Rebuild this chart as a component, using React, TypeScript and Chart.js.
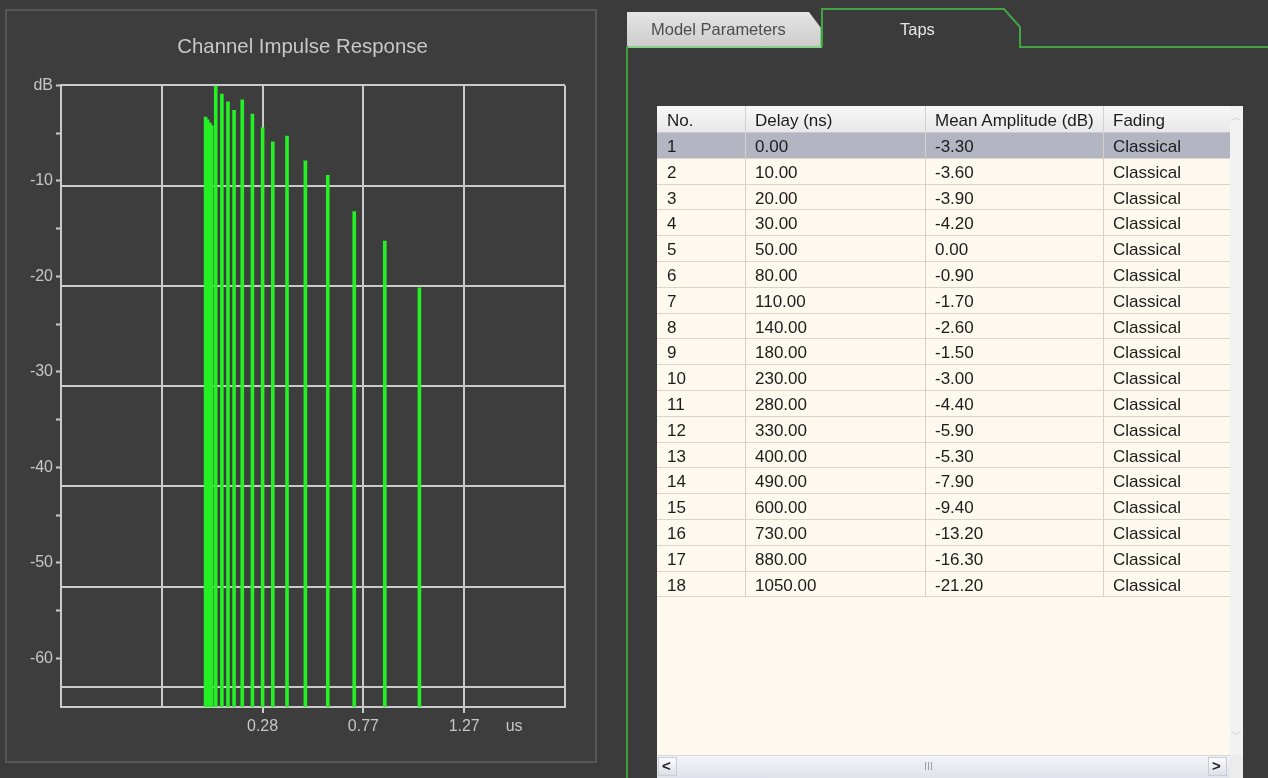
import React, { useEffect, useRef } from 'react';
import { Chart, registerables } from 'chart.js';

Chart.register(...registerables);

// ---------- data ----------
const tapNumbers = [1, 2, 3, 4, 5, 6, 7, 8, 9, 10, 11, 12, 13, 14, 15, 16, 17, 18];
const delaysNs = [0, 10, 20, 30, 50, 80, 110, 140, 180, 230, 280, 330, 400, 490, 600, 730, 880, 1050];
const amplitudesDb = [-3.3, -3.6, -3.9, -4.2, 0.0, -0.9, -1.7, -2.6, -1.5, -3.0, -4.4, -5.9, -5.3, -7.9, -9.4, -13.2, -16.3, -21.2];
const fadingTypes = [
  'Classical', 'Classical', 'Classical', 'Classical', 'Classical', 'Classical',
  'Classical', 'Classical', 'Classical', 'Classical', 'Classical', 'Classical',
  'Classical', 'Classical', 'Classical', 'Classical', 'Classical', 'Classical',
];
const tableHeaders = ['No.', 'Delay (ns)', 'Mean Amplitude (dB)', 'Fading'];

// x axis (microseconds): grid positions and labels
const xTickValues = [-0.71, -0.215, 0.28, 0.775, 1.27, 1.515, 1.765];
const xTickLabels = ['', '', '0.28', '0.77', '1.27', 'us', ''];
const xUnitValue = 1.515;
const xMin = -0.71;
const xMax = 1.765;

// y axis (dB)
const yTickValues = [0, -5, -10, -15, -20, -25, -30, -35, -40, -45, -50, -55, -60];
const yTickLabels = ['dB', '', '-10', '', '-20', '', '-30', '', '-40', '', '-50', '', '-60'];
const yGridValues = [0, -10.5, -21, -31.5, -42, -52.5, -63];
const yMin = -65.1;
const yMax = 0;

const GRID = '#cacaca';
const TEXT = '#c6c6c6';
const FONT = "'Liberation Sans', Arial, sans-serif";

function ImpulseChart() {
  const ref = useRef<HTMLCanvasElement | null>(null);
  useEffect(() => {
    if (!ref.current) return;
    const chart = new Chart(ref.current, {
      type: 'bar',
      data: {
        datasets: [
          {
            data: delaysNs.map((d, i) => ({ x: d / 1000, y: amplitudesDb[i] })),
            backgroundColor: '#25f025',
            borderWidth: 0,
            barThickness: 3,
            base: yMin,
            xAxisID: 'x',
            yAxisID: 'y',
          } as any,
        ],
      },
      options: {
        animation: false,
        responsive: false,
        maintainAspectRatio: false,
        layout: { padding: { left: 0, right: 0, top: 0, bottom: 0 } },
        plugins: {
          legend: { display: false },
          tooltip: { enabled: false },
          title: {
            display: true,
            text: 'Channel Impulse Response',
            color: '#c8c8c8',
            font: { family: FONT, size: 20.4, weight: 'normal' },
            padding: { top: 35, bottom: 26 },
          },
        },
        scales: {
          x: {
            type: 'linear',
            min: xMin,
            max: xMax,
            offset: false,
            afterBuildTicks: (s: any) => {
              s.ticks = xTickValues.map((v) => ({ value: v }));
            },
            afterFit: (s: any) => {
              s.height = 71;
            },
            grid: {
              offset: false,
              lineWidth: 2,
              color: (c: any) => (c.tick && c.tick.value === xUnitValue ? 'rgba(0,0,0,0)' : GRID),
              tickColor: (c: any) => {
                const i = c.index;
                return xTickLabels[i] && xTickValues[i] !== xUnitValue ? GRID : 'rgba(0,0,0,0)';
              },
              tickLength: 6,
              tickWidth: 2,
            },
            border: { display: true, color: GRID, width: 2 },
            ticks: {
              autoSkip: false,
              maxRotation: 0,
              color: TEXT,
              padding: 4,
              font: { family: FONT, size: 16 },
              callback: (_v: any, i: number) => xTickLabels[i],
            },
          },
          y: {
            type: 'linear',
            position: 'left',
            min: yMin,
            max: yMax,
            afterBuildTicks: (s: any) => {
              s.ticks = yTickValues.map((v) => ({ value: v }));
            },
            afterFit: (s: any) => {
              s.width = 61;
            },
            grid: {
              drawOnChartArea: false,
              drawTicks: true,
              tickLength: 5,
              tickWidth: 2,
              tickColor: GRID,
            },
            border: { display: true, color: GRID, width: 2 },
            ticks: {
              autoSkip: false,
              color: TEXT,
              padding: 3,
              font: { family: FONT, size: 16 },
              callback: (_v: any, i: number) => yTickLabels[i],
            },
          },
          yg: {
            type: 'linear',
            position: 'right',
            min: yMin,
            max: yMax,
            afterBuildTicks: (s: any) => {
              s.ticks = yGridValues.map((v) => ({ value: v }));
            },
            afterFit: (s: any) => {
              s.width = 40;
            },
            grid: { color: GRID, lineWidth: 2, drawTicks: false },
            border: { display: false },
            ticks: { display: false },
          },
        },
      } as any,
    });
    return () => chart.destroy();
  }, []);
  return (
    <canvas
      ref={ref}
      width={605}
      height={778}
      style={{ position: 'absolute', left: 0, top: 0, width: 605, height: 778 }}
    />
  );
}

const colLefts = [657, 745, 925, 1103];
const headerTop = 106;
const headerH = 27;
const rowH = 25.8;

export default function App() {
  const rows = tapNumbers.map((n, i) => [
    String(n),
    delaysNs[i].toFixed(2),
    amplitudesDb[i].toFixed(2),
    fadingTypes[i],
  ]);
  const cellText: React.CSSProperties = {
    position: 'absolute',
    fontFamily: FONT,
    fontSize: 17,
    color: '#1c1c1c',
    whiteSpace: 'nowrap',
    lineHeight: '1',
  };
  return (
    <div
      style={{
        position: 'fixed',
        left: 0,
        top: 0,
        width: 1268,
        height: 778,
        background: '#3b3b3b',
        overflow: 'hidden',
      }}
    >
      {/* left panel frame */}
      <div
        style={{
          position: 'absolute',
          left: 5,
          top: 9,
          width: 588,
          height: 750,
          border: '2px solid #565656',
          background: '#3d3d3d',
        }}
      />
      <ImpulseChart />

      {/* tabs */}
      <svg width={1268} height={778} style={{ position: 'absolute', left: 0, top: 0 }}>
        <defs>
          <linearGradient id="tabg" x1="0" y1="0" x2="0" y2="1">
            <stop offset="0" stopColor="#e4e4e4" />
            <stop offset="1" stopColor="#cdcdcd" />
          </linearGradient>
        </defs>
        <polygon points="627,12 809,12 821,28 821,47 627,47" fill="url(#tabg)" />
        <polyline points="627,47 821,47 821,28" fill="none" stroke="#86d086" strokeWidth={2} />
        <polyline
          points="822,47 822,9 1004,9 1020,27 1020,47 1268,47"
          fill="none"
          stroke="#43a343"
          strokeWidth={2}
        />
        <line x1={627} y1={46} x2={627} y2={778} stroke="#3f9f3f" strokeWidth={2} />
      </svg>
      <div style={{ ...cellText, left: 651, top: 21, fontSize: 16.5, color: '#4d4d4d' }}>
        Model Parameters
      </div>
      <div style={{ ...cellText, left: 900, top: 21, fontSize: 16.5, color: '#e6e6e6' }}>Taps</div>

      {/* table body background */}
      <div
        style={{
          position: 'absolute',
          left: 657,
          top: headerTop,
          width: 573,
          height: 649,
          background: '#fdf9ee',
        }}
      />
      {/* header */}
      <div
        style={{
          position: 'absolute',
          left: 657,
          top: headerTop,
          width: 573,
          height: headerH,
          background: 'linear-gradient(#f8f8f8, #e8e8ea)',
          borderBottom: '1px solid #c9c9c9',
          boxSizing: 'border-box',
        }}
      />
      {tableHeaders.map((h, c) => (
        <React.Fragment key={'h' + c}>
          <div style={{ ...cellText, left: colLefts[c] + 10, top: headerTop + 6 }}>{h}</div>
          {c > 0 && (
            <div
              style={{
                position: 'absolute',
                left: colLefts[c],
                top: headerTop,
                width: 1,
                height: headerH,
                background: '#d2d2d2',
              }}
            />
          )}
        </React.Fragment>
      ))}
      {/* rows */}
      {rows.map((r, i) => {
        const top = headerTop + headerH + i * rowH;
        return (
          <React.Fragment key={'r' + i}>
            <div
              style={{
                position: 'absolute',
                left: 657,
                top,
                width: 573,
                height: rowH,
                background: i === 0 ? '#b3b5c3' : 'transparent',
                borderBottom: '1px solid #d9d5c9',
                boxSizing: 'border-box',
              }}
            />
            {r.map((t, c) => (
              <React.Fragment key={c}>
                <div style={{ ...cellText, left: colLefts[c] + 10, top: top + 5 }}>{t}</div>
                {c > 0 && (
                  <div
                    style={{
                      position: 'absolute',
                      left: colLefts[c],
                      top,
                      width: 1,
                      height: rowH,
                      background: '#d6d2c6',
                    }}
                  />
                )}
              </React.Fragment>
            ))}
          </React.Fragment>
        );
      })}

      {/* vertical scrollbar */}
      <div
        style={{
          position: 'absolute',
          left: 1230,
          top: headerTop,
          width: 13,
          height: 649,
          background: '#f2f2f2',
        }}
      />
      <div style={{ ...cellText, left: 1231, top: 112, fontSize: 11, color: '#c4c4c4' }}>︿</div>
      <div style={{ ...cellText, left: 1231, top: 729, fontSize: 11, color: '#c4c4c4' }}>﹀</div>
      {/* horizontal scrollbar */}
      <div
        style={{
          position: 'absolute',
          left: 657,
          top: 755,
          width: 573,
          height: 23,
          background: 'linear-gradient(#f3f4f8, #dfe2ea)',
          borderTop: '1px solid #d6d6d6',
          boxSizing: 'border-box',
        }}
      />
      <div
        style={{
          position: 'absolute',
          left: 658,
          top: 757,
          width: 19,
          height: 19,
          background: 'linear-gradient(#fbfbfd, #dde0e8)',
          border: '1px solid #c9ccd4',
          boxSizing: 'border-box',
        }}
      />
      <div
        style={{
          position: 'absolute',
          left: 1208,
          top: 757,
          width: 19,
          height: 19,
          background: 'linear-gradient(#fbfbfd, #dde0e8)',
          border: '1px solid #c9ccd4',
          boxSizing: 'border-box',
        }}
      />
      <div style={{ ...cellText, left: 662, top: 758, fontSize: 15, fontWeight: 'bold', color: '#222' }}>&lt;</div>
      <div style={{ ...cellText, left: 1212, top: 758, fontSize: 15, fontWeight: 'bold', color: '#222' }}>&gt;</div>
      <div style={{ ...cellText, left: 924, top: 761, fontSize: 11, color: '#9aa0aa' }}>III</div>
      <div
        style={{
          position: 'absolute',
          left: 1230,
          top: 755,
          width: 13,
          height: 23,
          background: '#ececec',
        }}
      />
    </div>
  );
}
